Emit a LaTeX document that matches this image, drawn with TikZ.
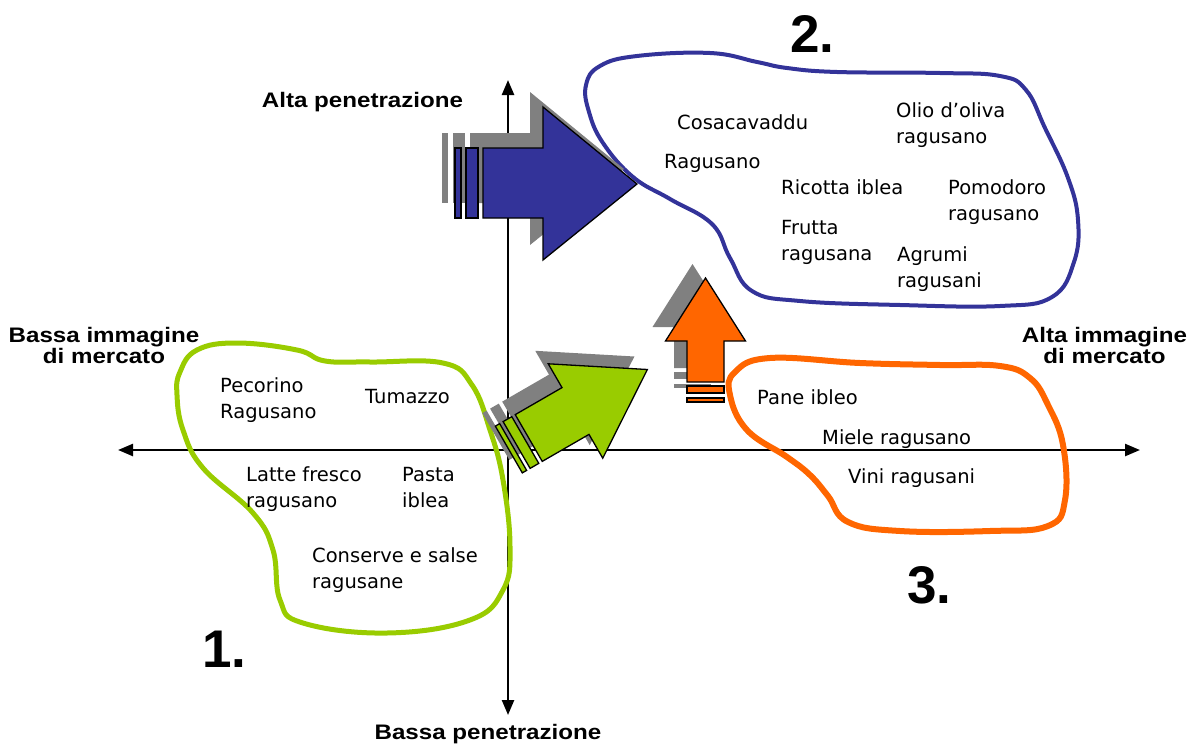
\documentclass[tikz,border=0pt]{standalone}
\usepackage{fontspec}
\setmainfont{DejaVu Sans}
\newfontfamily\lblfont[FakeStretch=1.15]{Liberation Sans}
\newfontfamily\numfont{Liberation Sans}
\usetikzlibrary{arrows.meta}
\definecolor{cblue}{HTML}{333399}
\definecolor{cgreen}{HTML}{99CC00}
\definecolor{corange}{HTML}{FF6600}
\definecolor{cgray}{HTML}{808080}
\newcommand{\lines}[1]{\begin{tabular}[t]{@{}l@{}}#1\end{tabular}}
\newcommand{\clines}[1]{\begin{tabular}[t]{@{}c@{}}#1\end{tabular}}
\tikzset{
  item/.style={font=\fontsize{19.5}{26.5}\selectfont, anchor=base west, inner sep=0pt},
  axislbl/.style={font=\lblfont\bfseries\fontsize{21}{20}\selectfont, inner sep=0pt, anchor=base},
  numlbl/.style={font=\numfont\bfseries\fontsize{53}{60}\selectfont, anchor=base west, inner sep=0pt},
  axisline/.style={line width=2.4pt, {Triangle[width=12pt,length=15pt]}-{Triangle[width=12pt,length=15pt]}},
  blobline/.style={line width=#1, line join=round},
  arrowmain/.style={draw=black, line width=1.3pt, line join=miter, fill=#1},
  arrowshadow/.style={fill=cgray},
}
\begin{document}
\begin{tikzpicture}[x=1pt,y=-1pt]
\useasboundingbox (0,0) rectangle (1191,744);

% axes
\coordinate (xl) at (118,450);
\coordinate (xr) at (1140,450);
\coordinate (yt) at (508,80);
\coordinate (yb) at (508,715);
\draw[axisline] (xl) -- (xr);
\draw[axisline] (yb) -- (yt);

% blobs
\draw[blobline=4pt, cblue] plot[smooth cycle, tension=0.7] coordinates {
 (586,85) (600,66) (637,56) (710,53) (757,62) (787,68) (837,72) (940,73) (1000,76)
 (1026,90) (1045,128) (1068,178) (1078,220) (1074,262) (1052,297)
 (1000,306) (900,305) (800,301) (752,291) (730,258) (712,224) (670,199) (633,177)
 (603,143) (589,112)};
\draw[blobline=5pt, cgreen] plot[smooth cycle, tension=0.7] coordinates {
 (180,372) (197,350) (237,343) (297,350) (325,361) (370,362) (443,363) (472,385)
 (490,430) (503,480) (510,547) (503,590) (470,620) (387,633) (303,623) (280,600)
 (273,550) (253,513) (203,468) (183,430) (177,395)};
\draw[blobline=6pt, corange] plot[smooth cycle, tension=0.7] coordinates {
 (735,372) (770,358) (860,363) (940,365) (1000,366) (1030,378) (1048,405) (1063,445) (1065,500)
 (1048,526) (990,531) (900,531) (848,522) (828,496) (810,475) (787,457) (747,430) (730,395)};

% blue arrow
\begin{scope}[shift={(-13,-15)}]
 \fill[arrowshadow] (483,148) -- (543,148) -- (543,107) -- (637,184) -- (543,260) -- (543,218) -- (483,218) -- cycle;
 \fill[arrowshadow] (455,148) rectangle (461,218);
 \fill[arrowshadow] (466,148) rectangle (478,218);
\end{scope}
\draw[arrowmain=cblue] (483,148) -- (543,148) -- (543,107) -- (637,184) -- (543,260) -- (543,218) -- (483,218) -- cycle;
\draw[arrowmain=cblue] (455,148) rectangle (461,218);
\draw[arrowmain=cblue] (466,148) rectangle (478,218);

% green arrow
\begin{scope}[shift={(562.5,398)}, rotate=30]
 \fill[arrowshadow] (-54,-27) -- (0,-27) -- (0,-54.5) -- (83,0) -- (0,54.5) -- (0,27) -- (-54,27) -- cycle;
 \fill[arrowshadow] (-68,-27) rectangle (-58,27);
 \fill[arrowshadow] (-77,-27) rectangle (-72,27);
\end{scope}
\begin{scope}[shift={(575.5,411)}, rotate=30]
 \draw[arrowmain=cgreen] (-54,-27) -- (0,-27) -- (0,-54.5) -- (83,0) -- (0,54.5) -- (0,27) -- (-54,27) -- cycle;
 \draw[arrowmain=cgreen] (-68,-27) rectangle (-58,27);
 \draw[arrowmain=cgreen] (-77,-27) rectangle (-72,27);
\end{scope}

% orange arrow
\begin{scope}[shift={(-13,-14)}]
 \fill[arrowshadow] (687,382) -- (687,341) -- (665.5,341) -- (705.5,278) -- (745.5,341) -- (724,341) -- (724,382) -- cycle;
 \fill[arrowshadow] (687,386) rectangle (724,393);
 \fill[arrowshadow] (687,398) rectangle (724,402);
\end{scope}
\draw[arrowmain=corange] (687,382) -- (687,341) -- (665.5,341) -- (705.5,278) -- (745.5,341) -- (724,341) -- (724,382) -- cycle;
\draw[arrowmain=corange] (687,386) rectangle (724,393);
\draw[arrowmain=corange] (687,398) rectangle (724,402);

% axis labels
\node[axislbl] (ap) at (362.5,107) {Alta penetrazione};
\node[axislbl] (bp) at (488,739) {Bassa penetrazione};
\node[axislbl] (bi) at (104,342) {\clines{Bassa immagine\\di mercato}};
\node[axislbl] (ai) at (1104.5,342) {\clines{Alta immagine\\di mercato}};

% numbers
\node[numlbl] (n2) at (790,52) {2.};
\node[numlbl] (n1) at (202,667) {1.};
\node[numlbl] (n3) at (907,603) {3.};

% group 2
\node[item] (t1) at (677,129) {Cosacavaddu};
\node[item] (t2) at (896,117) {\lines{Olio d’oliva\\ragusano}};
\node[item] (t3) at (664,168) {Ragusano};
\node[item] (t4) at (781,194) {Ricotta iblea};
\node[item] (t5) at (948,194) {\lines{Pomodoro\\ragusano}};
\node[item] (t6) at (781,234) {\lines{Frutta\\ragusana}};
\node[item] (t7) at (897,261) {\lines{Agrumi\\ragusani}};

% group 1
\node[item] (g1) at (220,392) {\lines{Pecorino\\Ragusano}};
\node[item] (g2) at (365,403) {Tumazzo};
\node[item] (g3) at (246,481) {\lines{Latte fresco\\ragusano}};
\node[item] (g4) at (402,481) {\lines{Pasta\\iblea}};
\node[item] (g5) at (312,562) {\lines{Conserve e salse\\ragusane}};

% group 3
\node[item] (o1) at (757,404) {Pane ibleo};
\node[item] (o2) at (822,444) {Miele ragusano};
\node[item] (o3) at (848,483) {Vini ragusani};
\end{tikzpicture}
\end{document}
